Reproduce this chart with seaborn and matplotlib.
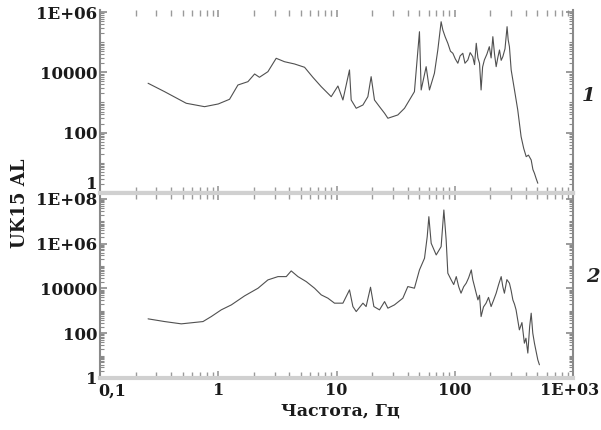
import numpy as np
import pandas as pd
import matplotlib
matplotlib.use("Agg")
import matplotlib.pyplot as plt
import matplotlib.ticker as mticker
import matplotlib.transforms as mtransforms
import seaborn as sns

# ---- data ----
freq1 = [0.255, 0.352, 0.536, 0.766, 1.0, 1.246, 1.467, 1.782, 2.03, 2.23, 2.63, 3.09, 3.63,
         4.42, 5.37, 6.31, 7.43, 9.02, 10.28, 11.33, 12.88, 13.31, 14.68, 16.73, 18.42, 19.63,
         20.95, 23.1, 25.5, 27.2, 33.0, 37.6, 41.4, 45.6, 50.3, 52.0, 57.3, 61.1, 67.3, 71.9,
         76.7, 79.3, 83.0, 87.4, 92.0, 96.4, 101, 106.2, 111, 117, 122, 129, 135, 142, 147,
         152, 157, 162, 167, 172, 178, 187, 196, 203, 210, 217, 224, 231, 239, 247, 255, 266,
         277, 283, 290, 300, 320, 341, 364, 383, 402, 420, 443, 458, 472, 488, 504]
amp1 = [4340, 2280, 942, 726, 893, 1277, 3800, 4900, 8810, 6850, 10500, 29200, 22500,
        18900, 14700, 6850, 3340, 1560, 3520, 1210, 12000, 1210, 643, 826, 1560, 7180,
        1210, 726, 439, 300, 386, 643, 1210, 2280, 222000, 2600, 15400, 2600, 9290, 55000,
        476000, 253000, 150000, 91800, 50000, 42800, 28000, 20000, 35000, 42800, 20000,
        25600, 45000, 33000, 18000, 91800, 30000, 20000, 2600, 15000, 25600, 40000, 70800,
        30000, 152000, 40000, 15400, 30000, 55000, 25000, 33000, 60000, 326000, 120000,
        70800, 12000, 2600, 565, 73.6, 30, 16.0, 18, 12.4, 6, 4.5, 3, 2.1]

freq2 = [0.255, 0.352, 0.487, 0.743, 0.873, 1.06, 1.29, 1.67, 2.17, 2.63, 3.20, 3.76, 4.14,
         4.72, 5.55, 6.52, 7.43, 8.46, 9.62, 11.33, 12.88, 13.76, 14.68, 16.73, 17.8, 19.4,
         20.7, 23.1, 25.5, 27.2, 30.9, 36.4, 40.1, 45.6, 50.3, 55.5, 58.5, 60.4, 63.2, 69.7,
         76.7, 80.9, 84.6, 87.4, 93.3, 98, 103, 108, 113, 119, 125, 131, 138, 142, 147, 152,
         157, 162, 167, 175, 184, 193, 203, 213, 224, 235, 247, 255, 263, 276, 290, 300, 310,
         320, 330, 352, 370, 388, 400, 415, 430, 443, 457, 472, 488, 504, 520]
amp2 = [440, 333, 263, 333, 557, 1110, 1850, 4680, 10300, 24200, 34000, 34000, 61100,
        34000, 20300, 10300, 5180, 3690, 2210, 2210, 8650, 1560, 931, 2210, 1560, 11400,
        1560, 1110, 2600, 1320, 1850, 3690, 12200, 10300, 67600, 225000, 2.07e6, 1.62e7,
        1.05e6, 316000, 743000, 3.23e7, 1.48e6, 48200, 24200, 15000, 34000, 12000, 6170,
        12000, 17300, 30000, 67600, 25000, 12200, 6000, 3100, 5000, 557, 1500, 2210, 4000,
        1560, 3000, 6170, 15000, 34000, 12000, 6170, 25000, 17300, 8000, 3100, 2000, 1110,
        142, 300, 36, 60, 13, 200, 789, 101, 36, 15, 6.5, 3.9]

x_ticks = [0.1, 1, 10, 100, 1000]
x_labels = ["0,1", "1", "10", "100", "1E+03"]
y1_ticks = [1, 100, 1e4, 1e6]
y1_labels = ["1", "100", "10000", "1E+06"]
y2_ticks = [1, 100, 1e4, 1e6, 1e8]
y2_labels = ["1", "100", "10000", "1E+06", "1E+08"]
panel_tags = ["1", "2"]

sns.set_theme(style="white")
plt.rcParams["font.family"] = ["DejaVu Serif"]
plt.rcParams["font.weight"] = "bold"

W, H = 601, 430
fig = plt.figure(figsize=(W / 100, H / 100), dpi=100)
left = 100 / W
width = (573 - 100) / W
ax1 = fig.add_axes([left, 1 - 193.5 / H, width, (193.5 - 10) / H])
ax2 = fig.add_axes([left, 1 - 378 / H, width, (378 - 193.5) / H])

df1 = pd.DataFrame({"f": freq1, "a": amp1})
df2 = pd.DataFrame({"f": freq2, "a": amp2})
sns.lineplot(data=df1, x="f", y="a", ax=ax1, color="#505050", linewidth=0.8, sort=False)
sns.lineplot(data=df2, x="f", y="a", ax=ax2, color="#505050", linewidth=0.8, sort=False)

for ax, yt, yl, ylim, tag, tx, ty in [
    (ax1, y1_ticks, y1_labels, (0.96, 1.165e6), panel_tags[0], 1.018, 0.53),
    (ax2, y2_ticks, y2_labels, (1.0, 1.76e8), panel_tags[1], 1.028, 0.55),
]:
    ax.set_xscale("log")
    ax.set_yscale("log")
    ax.set_xlim(0.1, 1000)
    ax.set_ylim(*ylim)
    ax.set_xlabel("")
    ax.set_ylabel("")
    ax.yaxis.set_major_locator(mticker.FixedLocator(yt))
    ax.yaxis.set_major_formatter(mticker.FixedFormatter(yl))
    ax.yaxis.set_minor_locator(mticker.LogLocator(base=10, subs=np.arange(1, 10), numticks=50))
    ax.yaxis.set_minor_formatter(mticker.NullFormatter())
    ax.xaxis.set_major_locator(mticker.FixedLocator(x_ticks))
    ax.xaxis.set_minor_locator(mticker.LogLocator(base=10, subs=np.arange(2, 10), numticks=50))
    ax.xaxis.set_minor_formatter(mticker.NullFormatter())
    ax.tick_params(axis="y", which="both", direction="in", left=True, right=True,
                   color="#8a8a8a", labelsize=12, pad=2)
    ax.tick_params(axis="y", which="major", length=5, width=1.2)
    ax.tick_params(axis="y", which="minor", length=3, width=0.8)
    ax.tick_params(axis="x", which="both", direction="in", top=True, bottom=True,
                   color="#9a9a9a", labelsize=11.5, pad=3)
    ax.tick_params(axis="x", which="major", length=5, width=1.2)
    ax.tick_params(axis="x", which="minor", length=4, width=1.0)
    for lab in ax.get_yticklabels() + ax.get_xticklabels():
        lab.set_fontweight("bold")
        lab.set_color("#1a1a1a")
    for s in ["left", "right"]:
        ax.spines[s].set_color("#8a8a8a")
        ax.spines[s].set_linewidth(1.5)
    for s in ["top", "bottom"]:
        ax.spines[s].set_color("#d0d0d0")
        ax.spines[s].set_linewidth(3)
    ax.text(tx, ty, tag, transform=ax.transAxes, fontsize=14, fontweight="bold",
            fontstyle="italic", color="#222222", ha="left", va="center")

ax1.spines["top"].set_visible(False)
ax1.set_xticklabels([])
ax2.set_xticklabels(x_labels)

# shift a few labels as in the reference
up = mtransforms.ScaledTranslation(0, 10 / 100, fig.dpi_scale_trans)
ylabs1 = ax1.get_yticklabels()
ylabs1[0].set_transform(ylabs1[0].get_transform() + up)
right = mtransforms.ScaledTranslation(12 / 100, 0, fig.dpi_scale_trans)
xlabs2 = ax2.get_xticklabels()
xlabs2[0].set_transform(xlabs2[0].get_transform() + right)
leftshift = mtransforms.ScaledTranslation(-3 / 100, 0, fig.dpi_scale_trans)
xlabs2[-1].set_transform(xlabs2[-1].get_transform() + leftshift)

fig.text(20 / W, 1 - 203 / H, "UK15 AL", rotation=90, fontsize=13, fontweight="bold",
         ha="center", va="center", color="#1a1a1a")
fig.text(340 / W, 1 - 411 / H, "Частота, Гц", fontsize=12.5, fontweight="bold",
         ha="center", va="center", color="#1a1a1a")

fig.savefig("out.png", dpi=100)
